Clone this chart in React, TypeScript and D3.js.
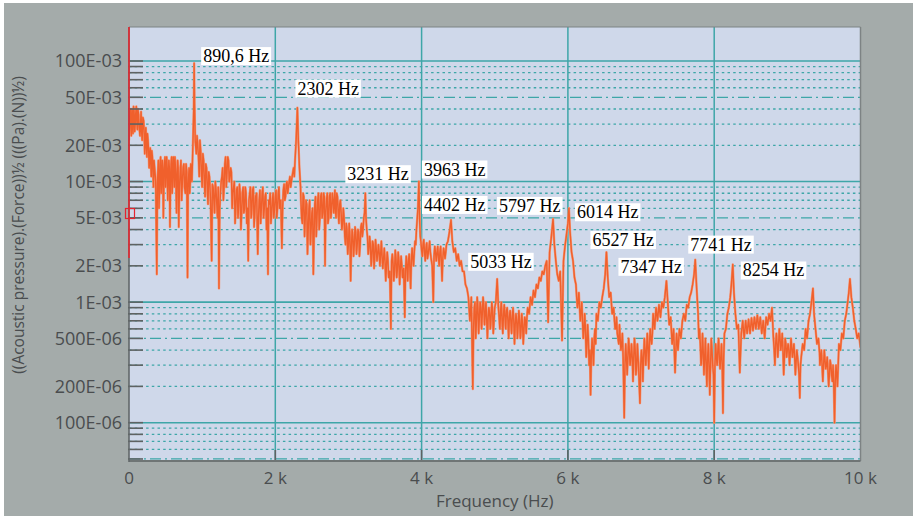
import React, { useRef, useEffect } from 'react';
import * as d3 from 'd3';

// spectrum: [frequency in Hz, amplitude in E-03]
const spectrumMain: [number, number][] = [
  [0, 22], [10, 35], [25, 28], [40, 40], [55, 25], [70, 38], [85, 30], [100, 42], [115, 27], [130, 36],
  [150, 24], [165, 38], [180, 22], [200, 32], [215, 17], [230, 28], [245, 16], [260, 22], [275, 13], [290, 19],
  [305, 11], [320, 16], [335, 9], [350, 13], [380, 1.7], [395, 12], [410, 6], [425, 14], [440, 8], [455, 15],
  [470, 5], [485, 14], [500, 9], [515, 16], [530, 7], [545, 15], [560, 4.2], [575, 14], [590, 8], [605, 16],
  [620, 9], [635, 13], [650, 5.5], [665, 15], [680, 4.2], [700, 12], [720, 7], [740, 13], [760, 9], [780, 14],
  [800, 1.6], [815, 11], [830, 8], [845, 14], [860, 10], [875, 22], [885, 40], [890.6, 96], [896, 45], [905, 22],
  [920, 17], [940, 20], [960, 11], [980, 18], [1000, 9], [1020, 15], [1040, 7.5], [1060, 13], [1080, 6.5], [1100, 11],
  [1130, 2.2], [1150, 9], [1170, 5.5], [1190, 8.5], [1210, 5], [1230, 1.3], [1250, 8], [1270, 11], [1290, 7], [1310, 14],
  [1330, 9], [1350, 16], [1370, 10], [1390, 13], [1410, 6], [1430, 9], [1450, 4.5], [1470, 8.5], [1490, 5], [1510, 9.5],
  [1530, 4], [1550, 8], [1570, 5.5], [1590, 9], [1610, 4.5], [1630, 2.2], [1650, 8], [1670, 5], [1690, 8.5], [1710, 4.2],
  [1730, 7.5], [1760, 2.5], [1780, 7], [1800, 4.5], [1820, 8], [1840, 5], [1860, 7.5], [1880, 4], [1900, 1.7], [1920, 6.5],
  [1940, 4.5], [1960, 7], [1980, 5], [2000, 7.5], [2020, 5], [2040, 8], [2060, 6], [2090, 2.8], [2110, 8.5], [2130, 7],
  [2150, 9.5], [2170, 8], [2190, 10], [2210, 9], [2230, 11], [2250, 13], [2270, 15], [2285, 22], [2302, 41], [2315, 22],
  [2330, 13], [2345, 9], [2360, 5], [2380, 8], [2400, 3.5], [2420, 7], [2440, 2.5], [2460, 6], [2480, 3], [2500, 5.5],
  [2520, 1.7], [2540, 6.5], [2560, 3.5], [2580, 7], [2600, 4], [2620, 7.5], [2640, 5], [2660, 8], [2680, 2], [2700, 7],
  [2720, 4.5], [2740, 7.5], [2760, 5], [2780, 8], [2800, 5.5], [2815, 8.5], [2830, 5], [2850, 7.5], [2870, 4.5], [2890, 7],
  [2910, 4], [2930, 6], [2950, 3.5], [2970, 4.5], [2990, 2.5], [3010, 4.5], [3030, 1.5], [3050, 4], [3070, 2.4], [3090, 4.2],
  [3110, 2.5], [3130, 4], [3150, 2.4], [3170, 4.2], [3190, 3.5], [3210, 5], [3231, 8], [3250, 4], [3270, 2.5], [3290, 3.5],
  [3310, 2], [3330, 3.2], [3350, 1.9], [3370, 3.3], [3390, 2.2], [3410, 3], [3430, 2], [3450, 3.2], [3470, 1.9], [3490, 2.8],
  [3510, 1.5], [3530, 2.6], [3550, 1.6], [3580, 0.6], [3600, 2.5], [3620, 1.5], [3640, 2.7], [3660, 1.6], [3680, 2.6], [3700, 1.4],
  [3720, 2.4], [3740, 1.6], [3770, 0.75], [3790, 2.4], [3810, 1.5], [3830, 2.5], [3850, 1.3], [3870, 2.8], [3890, 2], [3910, 3.2],
  [3930, 4], [3950, 6], [3963, 10], [3975, 4.5], [3990, 3.2], [4010, 2.4], [4030, 3.3], [4050, 2.2], [4070, 3.1], [4090, 2.5],
  [4110, 3.2], [4130, 2.3], [4160, 1.0], [4180, 2.9], [4200, 2.2], [4220, 2.9], [4240, 2], [4260, 2.9], [4280, 1.5], [4300, 2.8],
  [4320, 2.3], [4340, 3], [4360, 3.2], [4380, 3.8], [4402, 4.8], [4420, 3.2], [4440, 2.6], [4460, 2.8], [4480, 2.2], [4500, 2.5],
  [4520, 2], [4540, 2.2], [4560, 1.8], [4580, 1.8], [4600, 1.4], [4620, 1.3], [4640, 1.1], [4660, 0.7], [4680, 1.1], [4700, 0.19],
  [4720, 0.9], [4740, 0.5], [4760, 1.1], [4780, 0.55], [4800, 1.0], [4820, 0.6], [4840, 1.1], [4860, 0.65], [4880, 1.0], [4900, 0.5],
  [4920, 0.9], [4940, 0.6], [4960, 1.0], [4980, 0.55], [5000, 0.9], [5015, 1.0], [5033, 1.56], [5050, 0.9], [5070, 0.6], [5090, 1.0],
  [5110, 0.55], [5130, 0.95], [5150, 0.6], [5170, 0.9], [5190, 0.5], [5210, 0.85], [5230, 0.55], [5250, 0.9], [5270, 0.45], [5290, 0.8],
  [5310, 0.5], [5330, 0.85], [5350, 0.5], [5370, 0.8], [5390, 0.45], [5410, 0.75], [5430, 0.55], [5450, 0.9], [5470, 0.8], [5490, 1.1],
  [5510, 0.95], [5530, 1.25], [5550, 1.1], [5570, 1.4], [5590, 1.3], [5610, 1.6], [5630, 1.5], [5650, 1.8], [5670, 1.7], [5690, 2.0],
  [5710, 2.2], [5730, 0.68], [5750, 2.6], [5770, 3.3], [5797, 4.9], [5815, 3], [5835, 2.2], [5855, 1.7], [5875, 1.5], [5895, 1.8],
  [5920, 0.48], [5940, 2.2], [5960, 2.9], [5980, 3.6], [6000, 4.5], [6014, 6], [6030, 3.8], [6050, 2.6], [6070, 2.2], [6090, 1.6],
  [6110, 1.4], [6130, 0.9], [6150, 1.2], [6170, 0.7], [6190, 1.0], [6210, 0.5], [6230, 0.8], [6250, 0.35], [6270, 0.65], [6290, 0.3],
  [6310, 0.17], [6330, 0.5], [6350, 0.3], [6370, 0.6], [6390, 0.8], [6410, 0.7], [6430, 1.0], [6450, 0.9], [6470, 1.1], [6490, 1.3],
  [6510, 1.7], [6527, 2.6], [6545, 1.6], [6565, 1.1], [6585, 1.2], [6605, 0.8], [6625, 0.9], [6645, 0.6], [6665, 0.75], [6685, 0.5],
  [6705, 0.65], [6725, 0.4], [6745, 0.55], [6770, 0.11], [6790, 0.45], [6810, 0.25], [6830, 0.5], [6850, 0.3], [6870, 0.45], [6890, 0.22],
  [6910, 0.5], [6930, 0.25], [6950, 0.45], [6985, 0.145], [7005, 0.4], [7025, 0.22], [7045, 0.5], [7065, 0.3], [7085, 0.55], [7105, 0.28],
  [7125, 0.6], [7145, 0.45], [7165, 0.8], [7185, 0.6], [7205, 0.9], [7225, 0.7], [7245, 0.95], [7265, 0.75], [7285, 1.0], [7305, 0.9],
  [7325, 1.1], [7347, 1.5], [7365, 1.0], [7385, 0.65], [7405, 0.75], [7425, 0.45], [7445, 0.6], [7465, 0.26], [7485, 0.55], [7505, 0.4],
  [7525, 0.6], [7545, 0.5], [7565, 0.7], [7585, 0.8], [7605, 0.7], [7625, 0.95], [7645, 0.9], [7665, 1.1], [7685, 1.2], [7705, 1.4],
  [7725, 1.7], [7741, 2.25], [7760, 1.3], [7780, 0.8], [7800, 0.6], [7820, 0.3], [7840, 0.55], [7860, 0.25], [7880, 0.5], [7900, 0.2],
  [7920, 0.45], [7940, 0.17], [7960, 0.5], [7980, 0.3], [8000, 0.1], [8020, 0.45], [8040, 0.3], [8060, 0.5], [8080, 0.28], [8100, 0.45],
  [8120, 0.12], [8140, 0.55], [8160, 0.6], [8180, 0.8], [8200, 0.9], [8220, 1.1], [8235, 1.4], [8254, 2.05], [8270, 1.2], [8290, 0.8],
  [8310, 0.6], [8330, 0.65], [8350, 0.26], [8370, 0.55], [8390, 0.7], [8410, 0.5], [8430, 0.7], [8450, 0.55], [8470, 0.72], [8490, 0.55],
  [8510, 0.74], [8530, 0.58], [8550, 0.75], [8570, 0.6], [8590, 0.78], [8610, 0.6], [8630, 0.75], [8650, 0.55], [8670, 0.7], [8690, 0.5],
  [8710, 0.75], [8730, 0.65], [8750, 0.8], [8770, 0.7], [8790, 0.9], [8810, 0.5], [8830, 0.3], [8850, 0.55], [8870, 0.35], [8890, 0.6],
  [8910, 0.4], [8930, 0.55], [8950, 0.25], [8970, 0.5], [8990, 0.35], [9010, 0.45], [9030, 0.3], [9050, 0.5], [9070, 0.35], [9090, 0.45],
  [9110, 0.25], [9130, 0.4], [9150, 0.3], [9170, 0.16], [9190, 0.35], [9210, 0.45], [9230, 0.4], [9250, 0.6], [9270, 0.5], [9290, 0.7],
  [9310, 0.8], [9330, 1.0], [9350, 1.3], [9365, 0.8], [9385, 0.6], [9405, 0.45], [9425, 0.5], [9445, 0.3], [9465, 0.4], [9485, 0.22],
  [9505, 0.4], [9525, 0.28], [9545, 0.35], [9565, 0.2], [9585, 0.33], [9605, 0.25], [9625, 0.3], [9645, 0.1], [9665, 0.3], [9685, 0.2],
  [9705, 0.45], [9725, 0.4], [9745, 0.55], [9765, 0.5], [9785, 0.7], [9805, 0.8], [9825, 1.0], [9840, 1.2], [9856, 1.56], [9875, 1.1],
  [9895, 0.9], [9915, 0.7], [9935, 0.6], [9955, 0.5], [9975, 0.55], [10000, 0.42],
];

// extra readings inside the noisy bands (same units)
const spectrumDetail: [number, number][] = [
  [5, 30], [18, 40], [32, 24], [48, 33], [62, 42], [78, 26], [92, 37], [108, 30], [122, 40], [140, 28],
  [158, 30], [172, 26], [190, 34], [208, 25], [222, 20], [238, 20], [252, 25], [268, 18], [282, 15], [298, 14],
  [312, 18], [328, 12], [342, 15], [365, 10], [388, 9], [402, 15], [418, 9], [432, 16], [448, 10], [462, 13],
  [478, 11], [492, 16], [508, 12], [522, 13], [538, 11], [552, 13], [568, 10], [582, 16], [598, 11], [612, 14],
  [628, 16], [642, 10], [658, 12], [672, 13], [690, 9], [710, 15], [730, 10], [750, 14], [770, 8], [790, 12],
  [808, 9], [822, 13], [838, 10], [852, 12], [868, 15],
  [930, 24], [950, 16], [970, 22], [990, 12], [1010, 17], [1030, 10], [1050, 14], [1070, 9], [1090, 12], [1115, 7],
  [1140, 9.5], [1160, 7], [1180, 10], [1200, 6.5], [1220, 9], [1240, 6], [1260, 10], [1280, 13], [1300, 9], [1320, 16],
  [1340, 12], [1360, 15], [1380, 11], [1400, 12], [1420, 8], [1440, 10], [1460, 6], [1480, 9], [1500, 6.5], [1520, 8],
  [1540, 5.5], [1560, 9], [1580, 6], [1600, 8], [1620, 6], [1640, 7], [1660, 9], [1680, 6], [1700, 9], [1720, 5.5],
  [1745, 8], [1770, 5], [1790, 8.5], [1810, 6], [1830, 9], [1850, 6], [1870, 8], [1890, 6], [1910, 7], [1930, 8],
  [1950, 5.5], [1970, 8], [1990, 6], [2010, 8.5], [2030, 6], [2050, 9], [2075, 7], [2100, 6], [2120, 9.5], [2140, 7.5],
  [2160, 10], [2180, 9], [2200, 11], [2220, 10], [2240, 12], [2260, 11],
  [2350, 7], [2370, 4.5], [2390, 7.5], [2410, 5], [2430, 6.5], [2450, 4], [2470, 7], [2490, 4], [2510, 6], [2530, 3.5],
  [2550, 7.5], [2570, 5], [2590, 8], [2610, 5], [2630, 8], [2650, 5.5], [2670, 7.5], [2690, 5.5], [2710, 8], [2730, 5],
  [2750, 8], [2770, 6], [2790, 7], [2808, 7], [2822, 6], [2840, 8], [2860, 5.5], [2880, 6.5], [2900, 5.5], [2920, 4.5],
  [2940, 5], [2960, 3], [2980, 4], [3000, 3], [3020, 3.5], [3040, 2.8], [3060, 3.5], [3080, 3], [3100, 3.8], [3120, 3],
  [3140, 3.8], [3160, 3], [3180, 4.5], [3200, 4], [3220, 5.5], [3240, 5], [3260, 3.5], [3280, 2.8], [3300, 3], [3320, 2.4],
  [3340, 3], [3360, 2.4], [3380, 2.8], [3400, 2.5], [3420, 2.6], [3440, 2.5], [3460, 2.4], [3480, 2.3], [3500, 2.2], [3520, 2],
  [3540, 2.2], [3565, 1.8], [3590, 2.2], [3610, 2.1], [3630, 1.8], [3650, 2.3], [3670, 1.9], [3690, 2.2], [3710, 1.9], [3730, 2],
  [3755, 1.9], [3780, 1.8], [3800, 2], [3820, 2.2], [3840, 1.9], [3860, 2.2], [3880, 2.3], [3900, 2.6], [3920, 3],
  [3982, 3.5], [4000, 2.7], [4020, 3], [4040, 2.6], [4060, 2.8], [4080, 2.3], [4100, 2.8], [4120, 2.6], [4145, 2], [4170, 2.4],
  [4190, 2.6], [4210, 2.5], [4230, 2.4], [4250, 2.6], [4270, 2.2], [4290, 2.3], [4310, 2.6], [4330, 2.6],
  [4710, 0.6], [4730, 1.0], [4750, 0.7], [4770, 0.9], [4790, 0.75], [4810, 0.9], [4830, 0.8], [4850, 0.95], [4870, 0.8], [4890, 0.7],
  [4910, 0.75], [4930, 0.8], [4950, 0.75], [4970, 0.85], [4990, 0.7], [5060, 0.75], [5080, 0.85], [5100, 0.7], [5120, 0.8], [5140, 0.75],
  [5160, 0.85], [5180, 0.7], [5200, 0.75], [5220, 0.7], [5240, 0.75], [5260, 0.7], [5280, 0.65], [5300, 0.7], [5320, 0.65], [5340, 0.7],
  [5360, 0.6], [5380, 0.65], [5400, 0.6], [5420, 0.7], [5440, 0.75],
  [6120, 1.1], [6140, 1.0], [6160, 0.9], [6180, 0.85], [6200, 0.7], [6220, 0.6], [6240, 0.6], [6260, 0.45], [6280, 0.5], [6300, 0.4],
  [6320, 0.35], [6340, 0.4], [6360, 0.5], [6380, 0.45], [6655, 0.6], [6675, 0.55], [6695, 0.45], [6715, 0.5], [6735, 0.45], [6755, 0.35],
  [6780, 0.3], [6800, 0.35], [6820, 0.35], [6840, 0.4], [6860, 0.35], [6880, 0.35], [6900, 0.35], [6920, 0.4], [6940, 0.3], [6965, 0.3],
  [6995, 0.3], [7015, 0.35], [7035, 0.35], [7055, 0.4], [7075, 0.4], [7095, 0.42], [7115, 0.45], [7135, 0.5], [7155, 0.55],
  [7790, 0.5], [7810, 0.45], [7830, 0.35], [7850, 0.4], [7870, 0.35], [7890, 0.3], [7910, 0.35], [7930, 0.3], [7950, 0.3], [7970, 0.4],
  [7990, 0.25], [8010, 0.3], [8030, 0.35], [8050, 0.4], [8070, 0.35], [8090, 0.35], [8110, 0.3], [8130, 0.35],
  [8820, 0.4], [8840, 0.45], [8860, 0.45], [8880, 0.45], [8900, 0.5], [8920, 0.45], [8940, 0.4], [8960, 0.35], [8980, 0.45], [9000, 0.4],
  [9020, 0.4], [9040, 0.38], [9060, 0.42], [9080, 0.4], [9100, 0.35], [9120, 0.32], [9140, 0.35], [9160, 0.25], [9180, 0.3], [9200, 0.4],
  [9440, 0.38], [9455, 0.35], [9475, 0.3], [9495, 0.3], [9515, 0.33], [9535, 0.3], [9555, 0.27], [9575, 0.25], [9595, 0.3], [9615, 0.22],
  [9635, 0.2], [9655, 0.22], [9675, 0.25], [9695, 0.3],
];

const spectrum = spectrumMain.concat(spectrumDetail).sort((a, b) => a[0] - b[0]);

// labelled peaks
const peakFreqs = [890.6, 2302, 3231, 3963, 4402, 5033, 5797, 6014, 6527, 7347, 7741, 8254];
const peakLabels = ['890,6 Hz', '2302 Hz', '3231 Hz', '3963 Hz', '4402 Hz', '5033 Hz', '5797 Hz', '6014 Hz', '6527 Hz', '7347 Hz', '7741 Hz', '8254 Hz'];
// where each label sits relative to its peak tip (px)
const labelOffsets = [[9, -7], [0, -19], [-18, -19], [5, -12], [-27, -15], [-27, -17], [-54, -13], [8, 4], [-14, -12], [-46, -14], [-5, -15], [10, 6]];

const xTickValues = [0, 2000, 4000, 6000, 8000, 10000];
const xTickLabels = ['0', '2 k', '4 k', '6 k', '8 k', '10 k'];
const yTickValues = [0.1, 0.05, 0.02, 0.01, 0.005, 0.002, 0.001, 0.0005, 0.0002, 0.0001];
const yTickLabels = ['100E-03', '50E-03', '20E-03', '10E-03', '5E-03', '2E-03', '1E-03', '500E-06', '200E-06', '100E-06'];

const App = () => {
  const ref = useRef<SVGSVGElement>(null);

  useEffect(() => {
    const svg = d3.select(ref.current);
    svg.selectAll('*').remove();

    const left = 129, right = 860.5, top = 27, bottom = 461;
    const x = d3.scaleLinear().domain([0, 10000]).range([left, right]);
    const y = d3.scaleLog().domain([4.81e-5, 0.1915]).range([bottom, top]);

    const teal = '#3ea6a8';
    const tickGray = '#5e6262';
    const textGray = '#4a4d4f';

    svg.append('rect').attr('width', 913).attr('height', 525).attr('fill', '#ffffff');
    svg.append('rect').attr('x', 4).attr('y', 3).attr('width', 909).attr('height', 513).attr('fill', '#a4abaa');
    svg.append('rect').attr('x', left).attr('y', top).attr('width', right - left).attr('height', bottom - top).attr('fill', '#cfd8ea');

    // horizontal grid: solid decades, dash-dot at 5, dotted elsewhere
    const grid = svg.append('g');
    for (let e = -5; e <= -1; e++) {
      for (let m = 1; m <= 9; m++) {
        const v = m * Math.pow(10, e);
        if (v < y.domain()[0] || v > y.domain()[1]) continue;
        const line = grid.append('line')
          .attr('x1', left).attr('x2', right)
          .attr('y1', y(v)).attr('y2', y(v))
          .attr('stroke', teal);
        if (m === 1) line.attr('stroke-width', 1.6);
        else if (m === 5) line.attr('stroke-width', 1.3).attr('stroke-dasharray', '11,4,2,4');
        else line.attr('stroke-width', 1.3).attr('stroke-dasharray', '2.5,3.2');
      }
    }
    // vertical grid
    xTickValues.slice(1, -1).forEach(v => {
      grid.append('line').attr('x1', x(v)).attr('x2', x(v)).attr('y1', top).attr('y2', bottom)
        .attr('stroke', teal).attr('stroke-width', 1.5);
    });

    // spectrum
    svg.append('clipPath').attr('id', 'plotclip').append('rect')
      .attr('x', left).attr('y', top).attr('width', right - left).attr('height', bottom - top);
    const line = d3.line<[number, number]>()
      .x(d => x(d[0]))
      .y(d => y(d[1] * 1e-3));
    svg.append('path')
      .datum(spectrum)
      .attr('clip-path', 'url(#plotclip)')
      .attr('d', line)
      .attr('fill', 'none')
      .attr('stroke', '#f4997a')
      .attr('stroke-width', 2.4)
      .attr('stroke-linejoin', 'round');
    svg.append('path')
      .datum(spectrum)
      .attr('clip-path', 'url(#plotclip)')
      .attr('d', line)
      .attr('fill', 'none')
      .attr('stroke', '#f0602c')
      .attr('stroke-width', 1.4)
      .attr('stroke-linejoin', 'round');

    // y ticks (inside the plot)
    const ticks = svg.append('g');
    for (let e = -5; e <= -1; e++) {
      for (let m = 1; m <= 9; m++) {
        const v = m * Math.pow(10, e);
        if (v < y.domain()[0] || v > y.domain()[1]) continue;
        ticks.append('line').attr('x1', left - 1).attr('x2', left + 14)
          .attr('y1', y(v)).attr('y2', y(v))
          .attr('stroke', tickGray).attr('stroke-width', 1.6);
      }
    }
    xTickValues.slice(1, -1).forEach(v => {
      ticks.append('line').attr('x1', x(v)).attr('x2', x(v)).attr('y1', bottom - 11).attr('y2', bottom + 1)
        .attr('stroke', tickGray).attr('stroke-width', 1.6);
    });

    // frame
    svg.append('line').attr('x1', left).attr('x2', right).attr('y1', top).attr('y2', top).attr('stroke', '#7d8384').attr('stroke-width', 1.2);
    svg.append('line').attr('x1', right).attr('x2', right).attr('y1', top).attr('y2', bottom).attr('stroke', '#7d8384').attr('stroke-width', 1.5);
    svg.append('line').attr('x1', left).attr('x2', right).attr('y1', bottom).attr('y2', bottom).attr('stroke', '#6f7575').attr('stroke-width', 2);
    svg.append('line').attr('x1', left).attr('x2', left).attr('y1', top).attr('y2', bottom + 1).attr('stroke', '#62686a').attr('stroke-width', 1.6);
    svg.append('line').attr('x1', left).attr('x2', left).attr('y1', top).attr('y2', 258).attr('stroke', '#e8262f').attr('stroke-width', 1.6);

    // cursor marker
    svg.append('rect').attr('x', 125.5).attr('y', 208.5).attr('width', 9).attr('height', 10)
      .attr('fill', 'none').attr('stroke', '#e32430').attr('stroke-width', 1.2);

    // y tick labels
    svg.append('g').selectAll('text')
      .data(yTickValues)
      .enter()
      .append('text')
      .attr('x', 122)
      .attr('y', d => y(d))
      .attr('dy', '0.36em')
      .attr('text-anchor', 'end')
      .attr('font-family', '"Open Sans", sans-serif')
      .attr('font-size', '18px')
      .attr('fill', textGray)
      .text((d, i) => yTickLabels[i]);

    // x tick labels
    svg.append('g').selectAll('text')
      .data(xTickValues)
      .enter()
      .append('text')
      .attr('x', d => x(d))
      .attr('y', 484)
      .attr('text-anchor', 'middle')
      .attr('font-family', '"Open Sans", sans-serif')
      .attr('font-size', '17px')
      .attr('fill', textGray)
      .text((d, i) => xTickLabels[i]);

    svg.append('text')
      .attr('x', (left + right) / 2)
      .attr('y', 507)
      .attr('text-anchor', 'middle')
      .attr('font-family', '"Open Sans", sans-serif')
      .attr('font-size', '17px')
      .attr('fill', textGray)
      .text('Frequency (Hz)');

    svg.append('text')
      .attr('transform', 'translate(24,225) rotate(-90)')
      .attr('text-anchor', 'middle')
      .attr('font-family', '"Open Sans", sans-serif')
      .attr('font-size', '15.5px')
      .attr('fill', textGray)
      .text('((Acoustic pressure).(Force))½ (((Pa).(N))½)');

    // peak labels on white boxes
    const lab = svg.append('g');
    peakFreqs.forEach((f, i) => {
      const pt = spectrum.find(d => d[0] === f);
      if (!pt) return;
      const px = x(pt[0]) + labelOffsets[i][0];
      const py = y(pt[1] * 1e-3) + labelOffsets[i][1];
      const box = lab.append('rect').attr('fill', '#ffffff');
      const t = lab.append('text')
        .attr('x', px)
        .attr('y', py)
        .attr('dy', '0.33em')
        .attr('font-family', '"Liberation Serif", "Times New Roman", serif')
        .attr('font-size', '18px')
        .attr('fill', '#000000')
        .text(peakLabels[i]);
      const bb = (t.node() as SVGTextElement).getBBox();
      box.attr('x', bb.x - 2).attr('y', bb.y + 1).attr('width', bb.width + 4).attr('height', bb.height - 2);
    });
  });

  return (
    <svg ref={ref} width={913} height={525} style={{ position: 'absolute', left: 0, top: 0 }}></svg>
  );
};

export default App;
